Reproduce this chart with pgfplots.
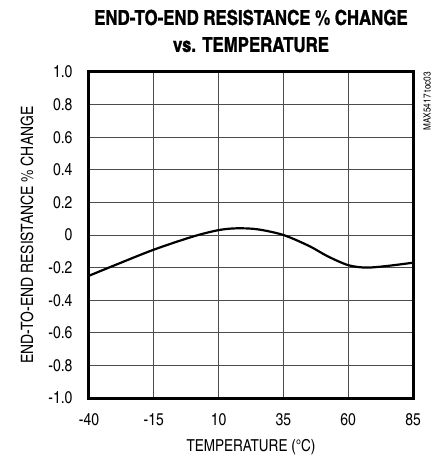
\documentclass[border=0pt]{standalone}
\usepackage{fontspec}
\setmainfont{texgyreheroscn}[Extension=.otf, UprightFont=*-regular, BoldFont=*-bold, BoldFeatures={FakeBold=1.3}]
\usepackage{pgfplots}
\pgfplotsset{compat=1.18}

\begin{document}
\begin{tikzpicture}
  \begin{axis}[
    name=ax,
    scale only axis,
    width=324pt, height=326pt,
    xmin=-40, xmax=85,
    ymin=-1, ymax=1,
    xtick={-40,-15,10,35,60,85},
    ytick={-1,-0.8,...,1},
    yticklabels={-1.0,-0.8,-0.6,-0.4,-0.2,0,0.2,0.4,0.6,0.8,1.0},
    /pgf/number format/assume math mode=true,
    tick label style={font=\fontsize{17}{17}\selectfont},
    major tick length=0pt,
    xticklabel style={yshift=-12pt},
    yticklabel style={xshift=-13pt},
    grid=major,
    grid style={line width=0.8pt, draw=black!70},
    axis line style={line width=3pt},
    xlabel={TEMPERATURE (\textdegree C)},
    xlabel style={font=\fontsize{16.5}{17}\selectfont, at={(axis description cs:0.5,0)}, anchor=center, yshift=-49pt},
  ]
  \addplot [line width=2.2pt, black, smooth, tension=0.5] coordinates {
    (-40,-0.25) (-30,-0.185) (-15,-0.09) (0,-0.01) (10,0.03) (17,0.041)
    (25,0.035) (35,0.0) (45,-0.068) (52,-0.13) (60,-0.185) (67,-0.2)
    (75,-0.19) (85,-0.17)
  };
  \end{axis}
  \node[font=\fontsize{17}{17}\selectfont, rotate=90] at ([xshift=-62pt]ax.west)
    {END-TO-END RESISTANCE \% CHANGE};
  \node[font=\bfseries\fontsize{20.5}{27}\selectfont, align=center, shift={(0,41pt)}] at (ax.north)
    {END-TO-END RESISTANCE \% CHANGE\\vs. TEMPERATURE};
  \node[font=\fontsize{10}{10}\selectfont, rotate=90, anchor=east, inner sep=0pt] at ([xshift=14pt]ax.north east) {MAX5417 toc03};
  \pgfresetboundingbox
  \path[use as bounding box] (ax.south west) ++(-89pt,-59pt) rectangle ++(436pt,457pt);
\end{tikzpicture}
\end{document}
